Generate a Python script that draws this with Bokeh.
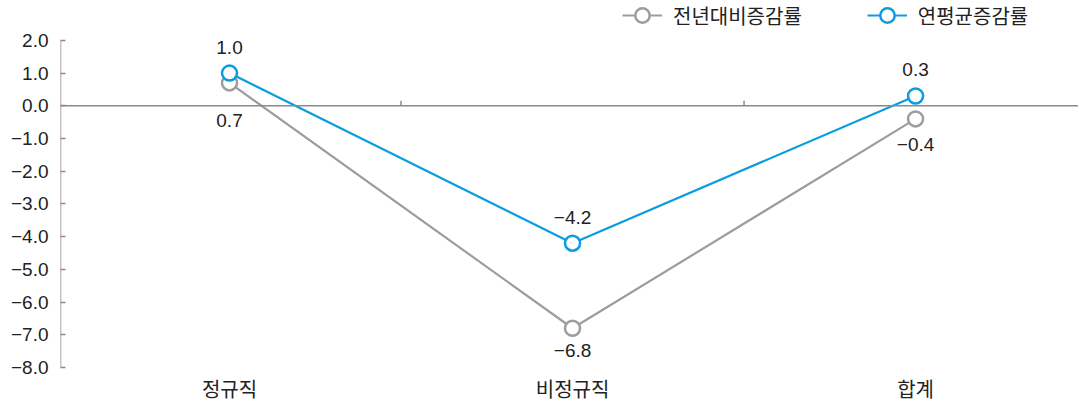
from bokeh.plotting import figure
from bokeh.models import Range1d, FixedTicker, Span, Legend, LegendItem, ColumnDataSource
from bokeh.core.properties import value
from bokeh.embed import file_html
from bokeh.resources import INLINE

categories = ["정규직", "비정규직", "합계"]
yoy = [0.7, -6.8, -0.4]
annual = [1.0, -4.2, 0.3]
series_names = ["전년대비증감률", "연평균증감률"]
y_ticks = [-8, -7, -6, -5, -4, -3, -2, -1, 0, 1, 2]

GRAY = "#9d9d9d"
BLUE = "#0a9de0"
AXIS = "#8a8a8a"
NUM_FONT = "Liberation Sans"
KR_FONT = "Noto Sans CJK KR"

xs = list(range(len(categories)))
x_start, x_end = -0.4927, 2.475
y_min, y_max = y_ticks[0], y_ticks[-1]
y_top = y_max + 40 / 32.8  # headroom for the legend

def fmt(v):
    s = f"{abs(v):.1f}"
    return ("\u2212" + s) if v < 0 else s

p = figure(width=1078, height=405, output_backend="svg", toolbar_location=None,
           x_range=Range1d(x_start, x_end), y_range=Range1d(y_min, y_top),
           min_border_left=60, min_border_right=0, min_border_top=0, min_border_bottom=37)
p.outline_line_color = None
p.xgrid.visible = False
p.ygrid.visible = False
p.background_fill_color = "white"
p.border_fill_color = "white"

# zero line
p.add_layout(Span(location=0, dimension="width", line_color=AXIS, line_width=1.5))
# category boundary ticks on zero line
p.ray(x=[0.5, 1.5], y=[0, 0], length=5, length_units="screen", angle=1.5708,
      line_color=AXIS, line_width=1.5)
# y axis line only over the tick span
p.segment(x0=[x_start], y0=[y_min], x1=[x_start], y1=[y_max], line_color=AXIS, line_width=1.5)

# y axis
ya = p.yaxis[0]
ya.ticker = FixedTicker(ticks=y_ticks)
ya.major_label_overrides = {t: fmt(t) for t in y_ticks}
ya.axis_line_color = None
ya.major_tick_in = 5
ya.major_tick_out = 0
ya.major_tick_line_color = AXIS
ya.major_tick_line_width = 1.5
ya.minor_tick_line_color = None
ya.major_label_text_font = NUM_FONT
ya.major_label_text_font_size = "19px"
ya.major_label_text_color = "#222222"
ya.major_label_standoff = 12

# x axis
xa = p.xaxis[0]
xa.ticker = FixedTicker(ticks=xs)
xa.major_label_overrides = {i: c for i, c in enumerate(categories)}
xa.axis_line_color = None
xa.major_tick_line_color = None
xa.minor_tick_line_color = None
xa.major_tick_in = 0
xa.major_tick_out = 0
xa.major_label_text_font = KR_FONT
xa.major_label_text_font_size = "20px"
xa.major_label_text_color = "#222222"
xa.major_label_standoff = 6

src_g = ColumnDataSource(dict(x=xs, y=yoy, t=[fmt(v) for v in yoy], off=[38, 22, 26]))
src_b = ColumnDataSource(dict(x=xs, y=annual, t=[fmt(v) for v in annual], off=[-26, -26, -26]))

lg = p.line("x", "y", source=src_g, line_color=GRAY, line_width=2.2)
cg = p.scatter("x", "y", source=src_g, size=15, fill_color="white", line_color=GRAY, line_width=2.5)
lb = p.line("x", "y", source=src_b, line_color=BLUE, line_width=2.2)
cb = p.scatter("x", "y", source=src_b, size=15, fill_color="white", line_color=BLUE, line_width=2.5)

for src in (src_g, src_b):
    p.text("x", "y", text="t", source=src, y_offset="off", text_align="center",
           text_baseline="middle", text_font=value(NUM_FONT), text_font_size="19px",
           text_color="#222222")

legend = Legend(items=[LegendItem(label=series_names[0], renderers=[lg, cg]),
                       LegendItem(label=series_names[1], renderers=[lb, cb])],
                orientation="horizontal", location=(562, 334),
                label_text_font=KR_FONT, label_text_font_size="20px", label_text_color="#222222",
                glyph_width=40, glyph_height=36, label_standoff=11, spacing=65,
                padding=0, margin=0, border_line_color=None, background_fill_alpha=0)
p.add_layout(legend, "center")

open("out.html", "w").write(file_html(p, INLINE))
